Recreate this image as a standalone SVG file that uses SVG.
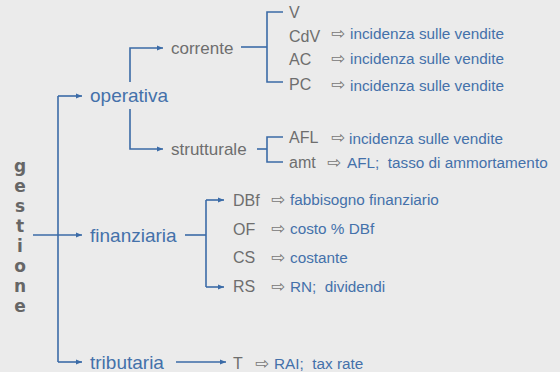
<svg xmlns="http://www.w3.org/2000/svg" width="560" height="372" viewBox="0 0 560 372">
<style>
.ln{fill:none;stroke:#3b6ba7;stroke-width:1.6}
.main{font-family:"Liberation Sans",Arial,sans-serif;font-size:19px;fill:#4471aa}
.sub{font-family:"Liberation Sans",Arial,sans-serif;font-size:17px;fill:#6e6e6e}
.lab{font-family:"Liberation Sans",Arial,sans-serif;font-size:16px;fill:#6e6e6e}
.desc{font-family:"Liberation Sans",Arial,sans-serif;font-size:15.3px;fill:#4471aa}
.arr{font-family:"DejaVu Sans",sans-serif;font-size:17px;fill:#777}
.root{font-family:"DejaVu Sans",sans-serif;font-size:17px;font-weight:bold;fill:#666;text-anchor:middle}
</style>
<defs>
<marker id="ah" markerWidth="7" markerHeight="6" refX="6" refY="3" orient="auto" markerUnits="userSpaceOnUse">
<path d="M0,0.5 L6,3 L0,5.5 Z" fill="#3b6ba7"/>
</marker>
</defs>
<rect width="560" height="372" fill="#ebebeb"/>
<g id="connectors">
<path class="ln" d="M33,235 H82" marker-end="url(#ah)"/>
<path class="ln" d="M58,96 V362"/>
<path class="ln" d="M58,96 H82" marker-end="url(#ah)"/>
<path class="ln" d="M58,362 H82" marker-end="url(#ah)"/>
<path class="ln" d="M130,82 V48 H163" marker-end="url(#ah)"/>
<path class="ln" d="M130,109 V149 H163" marker-end="url(#ah)"/>
<path class="ln" d="M241,47 H267"/>
<path class="ln" d="M283,12 H267 V82 H283"/>
<path class="ln" d="M257,149 H267"/>
<path class="ln" d="M283,137 H267 V162 H283"/>
<path class="ln" d="M185,235 H206"/>
<path class="ln" d="M206,200 V287"/>
<path class="ln" d="M206,200 H224" marker-end="url(#ah)"/>
<path class="ln" d="M206,287 H224" marker-end="url(#ah)"/>
<path class="ln" d="M176,362 H226" marker-end="url(#ah)"/>
</g>
<g id="gestione">
<text class="root" x="20" y="172">g</text>
<text class="root" x="20" y="192">e</text>
<text class="root" x="20" y="212">s</text>
<text class="root" x="20" y="232">t</text>
<text class="root" x="20" y="252">i</text>
<text class="root" x="20" y="272">o</text>
<text class="root" x="20" y="292">n</text>
<text class="root" x="20" y="312">e</text>
</g>
<g id="operativa"><text class="main" x="90" y="102">operativa</text></g>
<g id="finanziaria"><text class="main" x="90" y="241.5">finanziaria</text></g>
<g id="tributaria"><text class="main" x="90" y="368.5">tributaria</text></g>
<g id="corrente"><text class="sub" x="171" y="54">corrente</text></g>
<g id="strutturale"><text class="sub" x="171" y="155">strutturale</text></g>
<g id="V"><text class="lab" x="289" y="18">V</text></g>
<g id="CdV"><text class="lab" x="289" y="41.5">CdV</text><text class="arr" x="331" y="39">⇨</text><text class="desc" x="350" y="38.5">incidenza sulle vendite</text></g>
<g id="AC"><text class="lab" x="289" y="65">AC</text><text class="arr" x="331" y="64">⇨</text><text class="desc" x="350" y="64">incidenza sulle vendite</text></g>
<g id="PC"><text class="lab" x="289" y="90">PC</text><text class="arr" x="331" y="90">⇨</text><text class="desc" x="350" y="90.5">incidenza sulle vendite</text></g>
<g id="AFL"><text class="lab" x="289" y="143">AFL</text><text class="arr" x="331" y="143">⇨</text><text class="desc" x="349" y="143.5">incidenza sulle vendite</text></g>
<g id="amt"><text class="lab" x="289" y="167.5">amt</text><text class="arr" x="327" y="168">⇨</text><text class="desc" x="347" y="168">AFL;&#160; tasso di ammortamento</text></g>
<g id="DBf"><text class="lab" x="233" y="206">DBf</text><text class="arr" x="271" y="205">⇨</text><text class="desc" x="290" y="205">fabbisogno finanziario</text></g>
<g id="OF"><text class="lab" x="233" y="235">OF</text><text class="arr" x="271" y="234">⇨</text><text class="desc" x="290" y="234">costo % DBf</text></g>
<g id="CS"><text class="lab" x="233" y="263">CS</text><text class="arr" x="271" y="263">⇨</text><text class="desc" x="290" y="262.5">costante</text></g>
<g id="RS"><text class="lab" x="233" y="292">RS</text><text class="arr" x="271" y="292">⇨</text><text class="desc" x="290" y="291.5">RN;&#160; dividendi</text></g>
<g id="T"><text class="lab" x="233" y="368.5">T</text><text class="arr" x="255" y="369">⇨</text><text class="desc" x="274" y="368.5">RAI;&#160; tax rate</text></g>
</svg>
